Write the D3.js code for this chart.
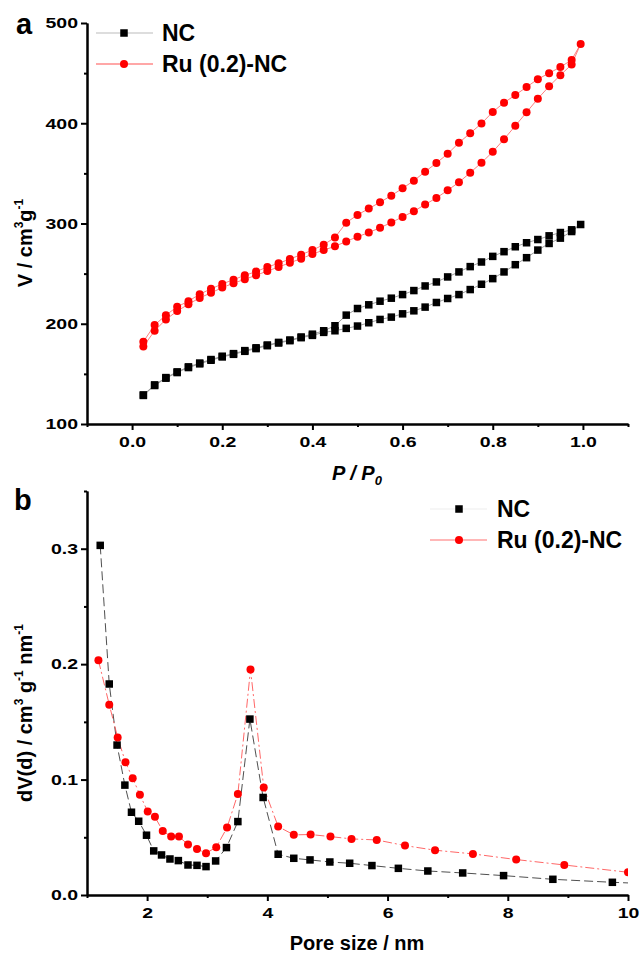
<!DOCTYPE html>
<html>
<head>
<meta charset="utf-8">
<script src="https://cdn.jsdelivr.net/npm/d3@7"></script>
<style>
  body { margin: 0; background: #fff; }
  svg { display: block; font-family: "Liberation Sans", Arial, sans-serif; }
  .axis path, .axis line { stroke: #000; stroke-width: 2; }
  .axis text { font-weight: bold; font-size: 15px; fill: #000; }
</style>
</head>
<body>
<div id="chart"></div>
<script>
// ---- panel a: N2 isotherms ----
const adsP = [0.025, 0.05, 0.075, 0.1, 0.125, 0.15, 0.175, 0.2, 0.225, 0.25,
  0.275, 0.3, 0.325, 0.35, 0.375, 0.4, 0.425, 0.45, 0.475, 0.5,
  0.525, 0.55, 0.575, 0.6, 0.625, 0.65, 0.675, 0.7, 0.725, 0.75,
  0.775, 0.8, 0.825, 0.85, 0.875, 0.9, 0.925, 0.95, 0.975, 0.995];
const desP = [0.975, 0.95, 0.925, 0.9, 0.875, 0.85, 0.825, 0.8, 0.775, 0.75,
  0.725, 0.7, 0.675, 0.65, 0.625, 0.6, 0.575, 0.55, 0.525, 0.5,
  0.475, 0.45, 0.425, 0.4, 0.375, 0.35, 0.325, 0.3, 0.275, 0.25,
  0.225, 0.2, 0.175, 0.15, 0.125, 0.1, 0.075, 0.05, 0.025];

const ncAds = [128.5, 138.4, 145.7, 151.3, 156.3, 160, 163.6, 166.9, 169.5, 172.5,
  175.2, 178.1, 180.8, 183.1, 186.1, 188.4, 191.4, 193, 195.4, 197.7,
  201, 204.3, 206.6, 209.9, 212.9, 216.6, 221.2, 225.2, 229.1, 234.1,
  239.4, 245, 251.7, 258.9, 265.9, 273.5, 280.1, 285.4, 292, 299];
const ncDes = [293.7, 291, 287.7, 284, 280.8, 276.8, 271.9, 267.2, 261.6, 257,
  251.7, 246.7, 241.7, 237.7, 233.1, 229.1, 225.5, 222.5, 218.9, 215.2,
  208.6, 198, 193, 189.6, 186.8, 183.8, 181.4, 178.8, 176, 173.2,
  170.2, 167.6, 164.3, 160.8, 157, 152, 146.3, 139, 129];

const ruAds = [177.2, 193, 204.3, 212.6, 219.5, 225.8, 230.8, 236.1, 240.4, 244.4,
  248.3, 252.6, 256.6, 260.9, 264.9, 269.5, 273.5, 277.2, 282.1, 286.8,
  291, 295.7, 301, 306.6, 312.3, 318.9, 325.5, 333.1, 341.1, 350.7,
  360.6, 371.5, 384.1, 397.4, 410.9, 424.5, 436.8, 448, 458.6, 479.1];
const ruDes = [463.2, 456, 450, 444, 436.1, 428.1, 420.5, 411.3, 399.7, 390.1,
  380.5, 369.5, 360.3, 351.7, 342.7, 335.1, 327.8, 321.2, 314.9, 308.6,
  300.7, 286.1, 278.8, 273.5, 268.9, 264.6, 260.3, 256.6, 252, 248.3,
  244, 239.7, 234.8, 229.5, 222.5, 216.9, 208.6, 198.7, 182.1];

const isoXTicks = [0, 0.2, 0.4, 0.6, 0.8, 1.0];
const isoXMinor = [-0.1, 0.1, 0.3, 0.5, 0.7, 0.9, 1.1];
const isoYTicks = [100, 200, 300, 400, 500];
const isoYMinor = [150, 250, 350, 450];

// ---- panel b: pore size distribution ----
const ncPore = [1.22, 1.37, 1.50, 1.63, 1.74, 1.86, 1.99, 2.11, 2.24, 2.38,
  2.52, 2.68, 2.83, 2.98, 3.14, 3.32, 3.51, 3.71, 3.93, 4.18,
  4.44, 4.71, 5.04, 5.37, 5.74, 6.18, 6.67, 7.25, 7.93, 8.75, 9.74, 10.8];
const ncDv = [0.3029, 0.1828, 0.1299, 0.0952, 0.0717, 0.0639, 0.0518, 0.0382, 0.0347, 0.0312,
  0.0298, 0.0260, 0.0257, 0.0246, 0.0295, 0.0411, 0.0636, 0.1524, 0.0845, 0.0353,
  0.0318, 0.0304, 0.0286, 0.0275, 0.0255, 0.0231, 0.0208, 0.0191, 0.0168, 0.0136, 0.0110, 0.0088];
const ruPore = [1.19, 1.37, 1.51, 1.64, 1.76, 1.88, 2.01, 2.13, 2.26, 2.40,
  2.53, 2.68, 2.83, 2.98, 3.15, 3.33, 3.51, 3.72, 3.94, 4.18,
  4.44, 4.72, 5.05, 5.40, 5.82, 6.29, 6.79, 7.42, 8.14, 8.94, 10.0];
const ruDv = [0.2034, 0.1649, 0.1365, 0.1151, 0.1012, 0.0868, 0.0723, 0.0677, 0.0555, 0.0506,
  0.0506, 0.0437, 0.0399, 0.0362, 0.0414, 0.0584, 0.0876, 0.1953, 0.0931, 0.0593,
  0.0521, 0.0524, 0.0506, 0.0486, 0.0477, 0.0428, 0.0388, 0.0356, 0.0307, 0.0260, 0.0197];

const psdXTicks = [2, 4, 6, 8, 10];
const psdXMinor = [1, 3, 5, 7, 9];
const psdYTicks = [0, 0.1, 0.2, 0.3];
const psdYMinor = [0.05, 0.15, 0.25, 0.35];

const seriesNames = ['NC', 'Ru (0.2)-NC'];

const W = 641, H = 954;
const SX = 1.3; // tick labels in the figure are wide

const svg = d3.select('#chart').append('svg')
  .attr('width', W).attr('height', H);

// draw one pair of axes with major + minor ticks
function drawAxes(g, x, y, xt, xm, yt, ym, xf, yf) {
  const y0 = y.range()[0];
  const x0 = x.range()[0];

  g.append('g').attr('class', 'axis').attr('transform', `translate(0,${y0})`)
    .call(d3.axisBottom(x).tickValues(xm).tickSize(3).tickFormat('').tickSizeOuter(0));
  const xa = g.append('g').attr('class', 'axis').attr('transform', `translate(0,${y0})`)
    .call(d3.axisBottom(x).tickValues(xt).tickSize(6).tickPadding(6).tickFormat(xf).tickSizeOuter(0));
  xa.selectAll('text').attr('transform', `scale(${SX},1)`).attr('x', 0);

  g.append('g').attr('class', 'axis').attr('transform', `translate(${x0},0)`)
    .call(d3.axisLeft(y).tickValues(ym).tickSize(3).tickFormat('').tickSizeOuter(0));
  const ya = g.append('g').attr('class', 'axis').attr('transform', `translate(${x0},0)`)
    .call(d3.axisLeft(y).tickValues(yt).tickSize(6).tickPadding(3).tickFormat(yf).tickSizeOuter(0));
  ya.selectAll('text').attr('x', -9 / SX).attr('transform', `scale(${SX},1)`);
}

function squares(g, pts, x, y, s) {
  g.selectAll(null).data(pts).join('rect')
    .attr('x', (d) => x(d[0]) - s / 2)
    .attr('y', (d) => y(d[1]) - s / 2)
    .attr('width', s).attr('height', s)
    .attr('fill', '#000');
}
function circles(g, pts, x, y, r) {
  g.selectAll(null).data(pts).join('circle')
    .attr('cx', (d) => x(d[0]))
    .attr('cy', (d) => y(d[1]))
    .attr('r', r)
    .attr('fill', '#ff0000');
}

// ================= panel a =================
const xA = d3.scaleLinear().domain([-0.1, 1.1]).range([87, 628]);
const yA = d3.scaleLinear().domain([100, 500]).range([424, 23]);
const gA = svg.append('g');

const ncIso = adsP.map((p, i) => [p, ncAds[i]]).concat(desP.map((p, i) => [p, ncDes[i]]));
const ruIso = adsP.map((p, i) => [p, ruAds[i]]).concat(desP.map((p, i) => [p, ruDes[i]]));
const lineA = d3.line().x((d) => xA(d[0])).y((d) => yA(d[1]));

gA.append('path').datum(ncIso).attr('d', lineA)
  .attr('fill', 'none').attr('stroke', '#888').attr('stroke-width', 0.8);
gA.append('path').datum(ruIso).attr('d', lineA)
  .attr('fill', 'none').attr('stroke', '#ff6060').attr('stroke-width', 0.8);
squares(gA, ncIso, xA, yA, 7.5);
circles(gA, ruIso, xA, yA, 4);

drawAxes(gA, xA, yA, isoXTicks, isoXMinor, isoYTicks, isoYMinor, d3.format('.1f'), d3.format('d'));

// legend a
const legA = [
  { y: 33, stroke: '#bbb', name: seriesNames[0], shape: 'sq' },
  { y: 64, stroke: '#ff5050', name: seriesNames[1], shape: 'ci' }
];
legA.forEach((d) => {
  gA.append('line').attr('x1', 96).attr('x2', 153).attr('y1', d.y).attr('y2', d.y)
    .attr('stroke', d.stroke).attr('stroke-width', 1.2);
  if (d.shape === 'sq') {
    gA.append('rect').attr('x', 124 - 3.75).attr('y', d.y - 3.75).attr('width', 7.5).attr('height', 7.5).attr('fill', '#000');
  } else {
    gA.append('circle').attr('cx', 124).attr('cy', d.y).attr('r', 4).attr('fill', '#ff0000');
  }
  gA.append('text').attr('x', 162).attr('y', d.y + 8).text(d.name)
    .attr('font-size', 23).attr('font-weight', 'bold');
});

gA.append('text').attr('x', 16).attr('y', 34).text('a')
  .attr('font-size', 29).attr('font-weight', 'bold');

// axis titles a
const xtA = gA.append('text').attr('x', 357).attr('y', 480).attr('text-anchor', 'middle')
  .attr('font-size', 20).attr('font-weight', 'bold').attr('font-style', 'italic');
xtA.append('tspan').text('P / P');
xtA.append('tspan').text('0').attr('font-size', 13).attr('dy', 5);

const ytA = gA.append('text').attr('transform', 'translate(32,243) rotate(-90)')
  .attr('text-anchor', 'middle').attr('font-size', 20).attr('font-weight', 'bold');
ytA.append('tspan').text('V / cm');
ytA.append('tspan').text('3').attr('font-size', 12).attr('dy', -9);
ytA.append('tspan').text('g').attr('dy', 9);
ytA.append('tspan').text('-1').attr('font-size', 12).attr('dy', -9);

// ================= panel b =================
const xB = d3.scaleLinear().domain([1, 10]).range([87, 628]);
const yB = d3.scaleLinear().domain([0, 0.35]).range([895, 491]);
const gB = svg.append('g');

svg.append('clipPath').attr('id', 'clipB').append('rect')
  .attr('x', 87).attr('y', 480).attr('width', 541).attr('height', 415);

const ncPsd = ncPore.map((p, i) => [p, ncDv[i]]);
const ruPsd = ruPore.map((p, i) => [p, ruDv[i]]);
const lineB = d3.line().x((d) => xB(d[0])).y((d) => yB(d[1]));

const plotB = gB.append('g').attr('clip-path', 'url(#clipB)');
plotB.append('path').datum(ncPsd).attr('d', lineB)
  .attr('fill', 'none').attr('stroke', '#222').attr('stroke-width', 0.8)
  .attr('stroke-dasharray', '9,4');
plotB.append('path').datum(ruPsd).attr('d', lineB)
  .attr('fill', 'none').attr('stroke', '#ff4040').attr('stroke-width', 0.8)
  .attr('stroke-dasharray', '9,3,2,3');
squares(plotB, ncPsd, xB, yB, 7.5);
circles(plotB, ruPsd, xB, yB, 4);

drawAxes(gB, xB, yB, psdXTicks, psdXMinor, psdYTicks, psdYMinor, d3.format('d'), d3.format('.1f'));

// legend b
const legB = [
  { y: 509, stroke: '#eee', name: seriesNames[0], shape: 'sq' },
  { y: 540, stroke: '#ff7070', name: seriesNames[1], shape: 'ci' }
];
legB.forEach((d) => {
  gB.append('line').attr('x1', 430).attr('x2', 487).attr('y1', d.y).attr('y2', d.y)
    .attr('stroke', d.stroke).attr('stroke-width', 1.2);
  if (d.shape === 'sq') {
    gB.append('rect').attr('x', 459 - 3.75).attr('y', d.y - 3.75).attr('width', 7.5).attr('height', 7.5).attr('fill', '#000');
  } else {
    gB.append('circle').attr('cx', 459).attr('cy', d.y).attr('r', 4).attr('fill', '#ff0000');
  }
  gB.append('text').attr('x', 497).attr('y', d.y + 8).text(d.name)
    .attr('font-size', 23).attr('font-weight', 'bold');
});

gB.append('text').attr('x', 14).attr('y', 510).text('b')
  .attr('font-size', 29).attr('font-weight', 'bold');

gB.append('text').attr('x', 357).attr('y', 950).attr('text-anchor', 'middle')
  .attr('font-size', 20).attr('font-weight', 'bold').text('Pore size / nm');

const ytB = gB.append('text').attr('transform', 'translate(32,713) rotate(-90)')
  .attr('text-anchor', 'middle').attr('font-size', 20).attr('font-weight', 'bold');
ytB.append('tspan').text('dV(d) / cm');
ytB.append('tspan').text('3').attr('font-size', 12).attr('dy', -9);
ytB.append('tspan').text(' g').attr('dy', 9);
ytB.append('tspan').text('-1').attr('font-size', 12).attr('dy', -9);
ytB.append('tspan').text(' nm').attr('dy', 9);
ytB.append('tspan').text('-1').attr('font-size', 12).attr('dy', -9);
</script>
</body>
</html>
